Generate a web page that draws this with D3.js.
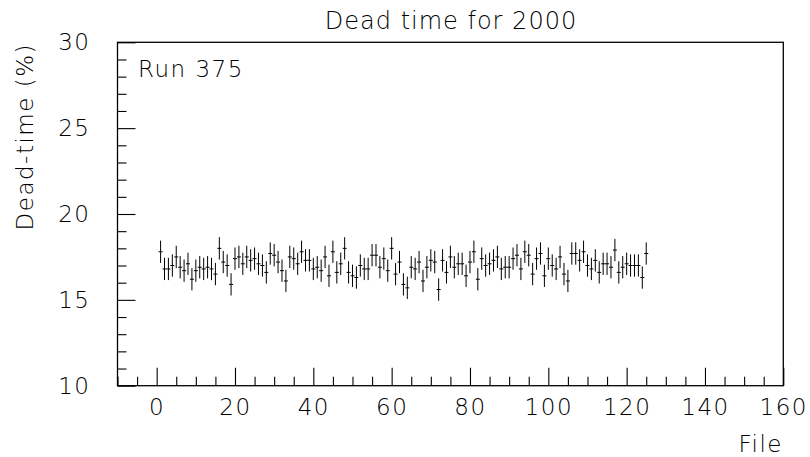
<!DOCTYPE html>
<html>
<head>
<meta charset="utf-8">
<script src="https://cdn.jsdelivr.net/npm/d3@7"></script>
<style>
  html, body { margin: 0; padding: 0; background: #fff; }
  svg { display: block; }
  text { font-family: "DejaVu Sans", sans-serif; font-weight: 200; fill: #000; }
</style>
</head>
<body>
<svg id="chart" width="810" height="457"></svg>
<script>
const titleText = "Dead time for 2000";
const runLabel = "Run 375";
const xLabel = "File";
const yLabel = "Dead-time (%)";

const xDomain = [-10, 160];
const yDomain = [10, 30];
const xMajorTicks = [0, 20, 40, 60, 80, 100, 120, 140, 160];
const yMajorTicks = [10, 15, 20, 25, 30];

const files = d3.range(1, 126);
const deadTime = [
  17.8, 16.8, 16.8, 17.0, 17.5, 16.9, 16.7, 17.1, 16.2, 16.7,
  16.9, 16.8, 16.9, 16.8, 16.5, 18.0, 17.2, 17.0, 15.9, 17.4,
  17.5, 17.1, 17.5, 17.3, 17.4, 17.1, 17.0, 16.6, 17.7, 17.6,
  17.2, 16.7, 16.1, 17.5, 17.4, 17.1, 17.8, 17.3, 17.3, 16.8,
  16.9, 16.7, 17.5, 16.4, 17.8, 16.6, 17.1, 18.0, 16.6, 16.4,
  16.3, 17.0, 16.8, 16.8, 17.6, 17.6, 16.9, 17.4, 16.7, 18.0,
  16.5, 17.2, 15.9, 15.7, 16.9, 16.8, 17.2, 16.1, 16.9, 17.3,
  17.2, 15.6, 17.3, 16.6, 17.5, 16.9, 17.1, 17.1, 16.4, 17.2,
  17.8, 16.2, 17.4, 17.0, 17.1, 17.3, 17.5, 16.8, 16.9, 16.9,
  17.4, 17.6, 16.8, 17.8, 17.6, 16.5, 17.4, 17.7, 16.4, 17.4,
  17.0, 16.8, 17.5, 16.5, 16.1, 17.7, 17.7, 17.3, 17.8, 17.0,
  16.8, 17.3, 16.6, 17.1, 17.1, 16.9, 17.9, 16.6, 16.9, 17.1,
  17.0, 17.0, 17.0, 16.3, 17.7
];
const deadTimeErr = [
  0.65, 0.65, 0.65, 0.65, 0.65, 0.65, 0.65, 0.65, 0.65, 0.65,
  0.65, 0.65, 0.65, 0.65, 0.65, 0.65, 0.65, 0.65, 0.65, 0.65,
  0.65, 0.65, 0.65, 0.65, 0.65, 0.65, 0.65, 0.65, 0.65, 0.65,
  0.65, 0.65, 0.65, 0.65, 0.65, 0.65, 0.65, 0.65, 0.65, 0.65,
  0.65, 0.65, 0.65, 0.65, 0.65, 0.65, 0.65, 0.65, 0.65, 0.65,
  0.65, 0.65, 0.65, 0.65, 0.65, 0.65, 0.65, 0.65, 0.65, 0.65,
  0.65, 0.65, 0.65, 0.65, 0.65, 0.65, 0.65, 0.65, 0.65, 0.65,
  0.65, 0.65, 0.65, 0.65, 0.65, 0.65, 0.65, 0.65, 0.65, 0.65,
  0.65, 0.65, 0.65, 0.65, 0.65, 0.65, 0.65, 0.65, 0.65, 0.65,
  0.65, 0.65, 0.65, 0.65, 0.65, 0.65, 0.65, 0.65, 0.65, 0.65,
  0.65, 0.65, 0.65, 0.65, 0.65, 0.65, 0.65, 0.65, 0.65, 0.65,
  0.65, 0.65, 0.65, 0.65, 0.65, 0.65, 0.65, 0.65, 0.65, 0.65,
  0.65, 0.65, 0.65, 0.65, 0.65
];

const svg = d3.select("#chart");
const L = 117.5, R = 783.3, T = 42.3, B = 385.7;

const x = d3.scaleLinear().domain(xDomain).range([L, R]);
const y = d3.scaleLinear().domain(yDomain).range([B, T]);

const xMinor = d3.range(-10, 161, 5).filter(v => xMajorTicks.indexOf(v) < 0);
const yMinor = d3.range(10, 31, 1).filter(v => yMajorTicks.indexOf(v) < 0);

// frame
svg.append("rect")
  .attr("x", L).attr("y", T).attr("width", R - L).attr("height", B - T)
  .attr("fill", "none").attr("stroke", "#000").attr("stroke-width", 1.3);

// x axis minor ticks
svg.append("g").attr("transform", `translate(0,${B})`)
  .call(d3.axisBottom(x).tickValues(xMinor).tickSize(-9).tickFormat(""))
  .call(g => g.select(".domain").remove())
  .call(g => g.selectAll("line").attr("stroke", "#000").attr("stroke-width", 1.1));

// x axis major ticks + labels
const gx = svg.append("g").attr("transform", `translate(0,${B})`)
  .call(d3.axisBottom(x).tickValues(xMajorTicks).tickSize(-18).tickPadding(12.6).tickFormat(d3.format("d")))
  .call(g => g.select(".domain").remove());
gx.selectAll("line").attr("stroke", "#000").attr("stroke-width", 1.1);
gx.selectAll("text")
  .attr("font-family", "DejaVu Sans, sans-serif")
  .attr("font-size", 23)
  .style("letter-spacing", "1.5px")
  .attr("fill", "#000");

// y axis minor ticks
svg.append("g").attr("transform", `translate(${L},0)`)
  .call(d3.axisLeft(y).tickValues(yMinor).tickSize(-9).tickFormat(""))
  .call(g => g.select(".domain").remove())
  .call(g => g.selectAll("line").attr("stroke", "#000").attr("stroke-width", 1.1));

// y axis major ticks + labels
const gy = svg.append("g").attr("transform", `translate(${L},0)`)
  .call(d3.axisLeft(y).tickValues(yMajorTicks).tickSize(-18).tickPadding(27).tickFormat(d3.format("d")))
  .call(g => g.select(".domain").remove());
gy.selectAll("line").attr("stroke", "#000").attr("stroke-width", 1.1);
gy.selectAll("text")
  .attr("font-family", "DejaVu Sans, sans-serif")
  .attr("font-size", 23)
  .style("letter-spacing", "1.5px")
  .attr("fill", "#000");

// data: error bars and markers
const pts = files.map((f, i) => ({ f, v: deadTime[i], e: deadTimeErr[i] }));
const gd = svg.append("g");
gd.selectAll("line.err").data(pts).enter().append("line")
  .attr("class", "err")
  .attr("x1", d => x(d.f)).attr("x2", d => x(d.f))
  .attr("y1", d => y(d.v - d.e)).attr("y2", d => y(d.v + d.e))
  .attr("stroke", "#000").attr("stroke-width", 1);
gd.selectAll("line.mk").data(pts).enter().append("line")
  .attr("class", "mk")
  .attr("x1", d => x(d.f) - 2).attr("x2", d => x(d.f) + 2)
  .attr("y1", d => y(d.v)).attr("y2", d => y(d.v))
  .attr("stroke", "#000").attr("stroke-width", 1);

// title
svg.append("text")
  .attr("x", 451).attr("y", 29.3)
  .attr("text-anchor", "middle")
  .attr("font-size", 24)
  .style("letter-spacing", "1px")
  .text(titleText);

// run label
svg.append("text")
  .attr("x", 138).attr("y", 77)
  .attr("font-size", 23)
  .style("letter-spacing", "1.5px")
  .text(runLabel);

// x label
svg.append("text")
  .attr("x", 783).attr("y", 451.7)
  .attr("text-anchor", "end")
  .attr("font-size", 23)
  .style("letter-spacing", "1.5px")
  .text(xLabel);

// y label
svg.append("text")
  .attr("transform", `translate(33,43) rotate(-90)`)
  .attr("text-anchor", "end")
  .attr("font-size", 23)
  .style("letter-spacing", "1.5px")
  .text(yLabel);
</script>
</body>
</html>
